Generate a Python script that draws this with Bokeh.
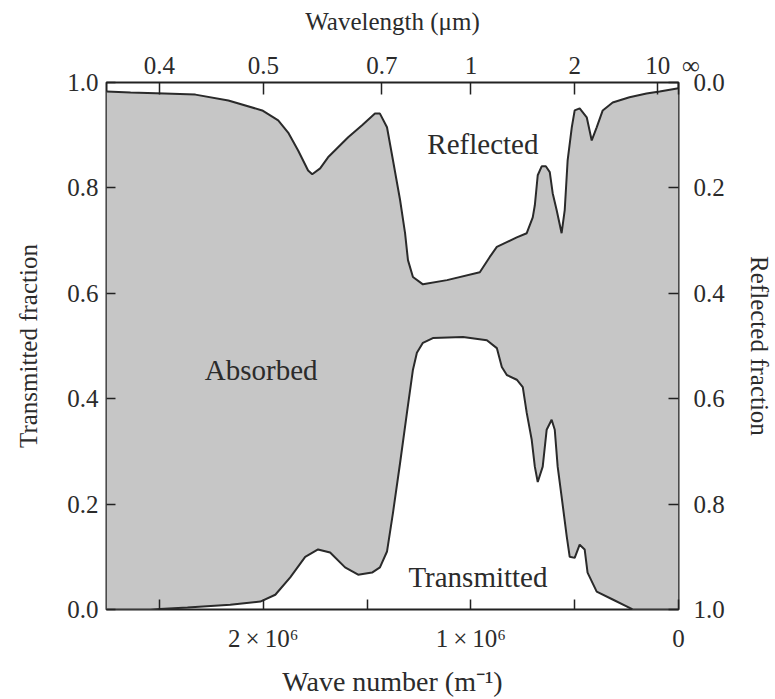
import numpy as np
from bokeh.plotting import figure
from bokeh.models import Range1d, LinearAxis, FixedTicker, NumeralTickFormatter
from bokeh.core.properties import value
from bokeh.embed import file_html
from bokeh.resources import INLINE

# ---- data (wave number in units of 1e6 m^-1, fractions) ----
upper_k = [2.755, 2.639, 2.476, 2.327, 2.168, 2.005, 1.928, 1.880, 1.832, 1.784, 1.764,
           1.726, 1.688, 1.591, 1.524, 1.462, 1.438, 1.404, 1.375, 1.341, 1.317, 1.303,
           1.279, 1.231, 1.115, 0.957, 0.909, 0.875, 0.827, 0.779, 0.731, 0.702, 0.692,
           0.678, 0.659, 0.639, 0.620, 0.606, 0.587, 0.563, 0.548, 0.534, 0.514, 0.500,
           0.476, 0.442, 0.418, 0.394, 0.365, 0.317, 0.236, 0.154, 0.091, 0.0]
upper_v = [0.983, 0.981, 0.979, 0.977, 0.966, 0.947, 0.928, 0.905, 0.871, 0.833, 0.826,
           0.837, 0.858, 0.896, 0.919, 0.941, 0.941, 0.915, 0.852, 0.777, 0.714, 0.663,
           0.631, 0.617, 0.625, 0.640, 0.669, 0.688, 0.697, 0.706, 0.714, 0.744, 0.767,
           0.824, 0.841, 0.841, 0.830, 0.790, 0.758, 0.714, 0.758, 0.852, 0.915, 0.947,
           0.951, 0.934, 0.890, 0.915, 0.947, 0.962, 0.972, 0.979, 0.983, 0.989]

lower_k = [2.755, 2.543, 2.365, 2.159, 2.014, 1.942, 1.870, 1.798, 1.736, 1.678, 1.606,
           1.543, 1.476, 1.438, 1.404, 1.375, 1.341, 1.308, 1.279, 1.260, 1.231, 1.183,
           1.038, 0.923, 0.875, 0.851, 0.827, 0.779, 0.750, 0.731, 0.707, 0.692, 0.678,
           0.654, 0.635, 0.611, 0.596, 0.582, 0.563, 0.538, 0.524, 0.500, 0.476, 0.452,
           0.438, 0.394, 0.317, 0.250, 0.221, 0.0]
lower_v = [0.0, 0.0, 0.004, 0.009, 0.015, 0.028, 0.061, 0.100, 0.114, 0.108, 0.080,
           0.066, 0.070, 0.080, 0.110, 0.184, 0.278, 0.373, 0.455, 0.487, 0.506, 0.515,
           0.517, 0.511, 0.496, 0.460, 0.445, 0.436, 0.422, 0.373, 0.322, 0.271, 0.242,
           0.271, 0.341, 0.360, 0.341, 0.271, 0.214, 0.138, 0.100, 0.098, 0.123, 0.114,
           0.070, 0.034, 0.019, 0.006, 0.0, 0.0]

wavelength_ticks_um = [0.4, 0.5, 0.7, 1, 2, 10]
wavelength_labels = ["0.4", "0.5", "0.7", "1", "2", "10"]
bottom_ticks = [2e6, 1e6, 0.0]
bottom_labels = ["2\u2009×\u200910⁶", "1\u2009×\u200910⁶", "0"]
bottom_minor = [2.5e6, 1.5e6, 0.5e6]

region_labels = ["Reflected", "Absorbed", "Transmitted"]
region_k = [0.942, 2.01, 0.966]
region_v = [0.884, 0.455, 0.0625]

SCALE = 1e6
uk = np.array(upper_k) * SCALE
lk = np.array(lower_k) * SCALE
rk = np.array(region_k) * SCALE

FONT = "Liberation Serif"
TXT = "#2b2b2b"
FS = "25px"

p = figure(width=775, height=699, x_range=Range1d(2.755e6, 0), y_range=Range1d(0, 1),
           output_backend="svg", toolbar_location=None,
           x_axis_location=None, y_axis_location=None,
           min_border_left=106, min_border_right=96, min_border_top=82, min_border_bottom=89)
p.extra_y_ranges = {"refl": Range1d(1, 0)}
p.grid.visible = False
p.outline_line_color = "#222222"
p.outline_line_width = 2
p.background_fill_color = "white"
p.border_fill_color = "white"

# absorbed region
px = list(uk) + list(lk[::-1])
py = list(upper_v) + list(lower_v[::-1])
p.patch(px, py, fill_color="#c6c6c6", line_color=None)
p.line(uk, upper_v, line_color="#2a2a2a", line_width=2)
p.line(lk, lower_v, line_color="#2a2a2a", line_width=2)

p.text(x=rk, y=region_v, text=region_labels, text_align="center", text_baseline="middle",
       text_font=value(FONT), text_font_size="29px", text_color=TXT)


def style(ax, tick_len=10):
    ax.axis_line_color = None
    ax.major_tick_in = tick_len
    ax.major_tick_out = 0
    ax.minor_tick_in = tick_len
    ax.minor_tick_out = 0
    ax.major_tick_line_color = "#222222"
    ax.minor_tick_line_color = "#222222"
    ax.major_tick_line_width = 1.5
    ax.minor_tick_line_width = 1.5
    ax.major_label_text_font = FONT
    ax.major_label_text_font_size = FS
    ax.major_label_text_color = TXT
    ax.axis_label_text_font = FONT
    ax.axis_label_text_font_size = FS
    ax.axis_label_text_font_style = "normal"
    ax.axis_label_text_color = TXT


# bottom axis
bx = LinearAxis(ticker=FixedTicker(ticks=bottom_ticks, minor_ticks=bottom_minor),
                axis_label="Wave number (m⁻¹)")
bx.major_label_overrides = {t: l for t, l in zip(bottom_ticks, bottom_labels)}
style(bx)
bx.axis_label_text_font_size = "28px"
bx.major_label_standoff = 15
bx.axis_label_standoff = 11
p.add_layout(bx, "below")

# top axis (wavelength)
top_pos = [1.0 / (w * 1e-6) for w in wavelength_ticks_um] + [0.0]
top_lab = wavelength_labels + ["\u2003∞"]
tx = LinearAxis(ticker=FixedTicker(ticks=top_pos, minor_ticks=[]), axis_label="Wavelength (μm)")
tx.major_label_overrides = {t: l for t, l in zip(top_pos, top_lab)}
style(tx, 12)
tx.major_label_standoff = 4
tx.axis_label_standoff = 14
p.add_layout(tx, "above")

# left axis
ly = LinearAxis(ticker=FixedTicker(ticks=[0, 0.2, 0.4, 0.6, 0.8, 1.0], minor_ticks=[]),
                formatter=NumeralTickFormatter(format="0.0"), axis_label="Transmitted fraction")
style(ly, 9)
ly.major_label_standoff = 8
ly.axis_label_standoff = 22
p.add_layout(ly, "left")

# right axis
ry = LinearAxis(y_range_name="refl",
                ticker=FixedTicker(ticks=[0, 0.2, 0.4, 0.6, 0.8, 1.0], minor_ticks=[]),
                formatter=NumeralTickFormatter(format="0.0"), axis_label="Reflected fraction")
style(ry, 10)
ry.major_label_standoff = 15
ry.axis_label_standoff = 18
p.add_layout(ry, "right")

open("out.html", "w").write(file_html(p, INLINE))
